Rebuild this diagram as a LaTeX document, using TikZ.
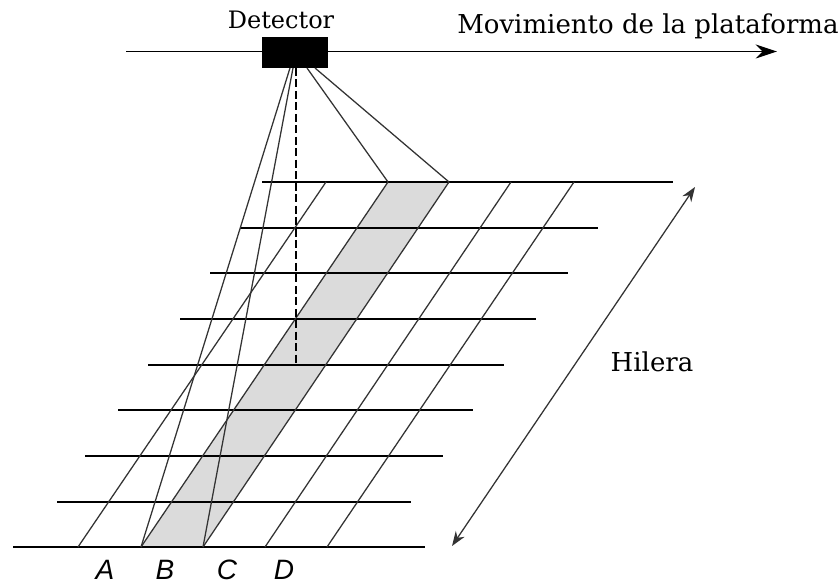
\documentclass[tikz,border=0pt]{standalone}
\usepackage{fontspec}
\setmainfont{DejaVu Serif}
\setsansfont{Liberation Sans}
\usetikzlibrary{arrows.meta}

\begin{document}
\begin{tikzpicture}[x=0.75pt, y=-0.75pt, font=\fontsize{19.5pt}{22pt}\selectfont,
    line/.style={line width=1.1pt},
    ray/.style={line width=0.95pt, black!80},
    letter/.style={inner sep=0pt, font=\sffamily\itshape\fontsize{21pt}{24pt}\selectfont}]
\useasboundingbox (0,0) rectangle (840,584);

% ends of the slanted lines, bottom row and top row
\coordinate (a0) at (78,547);  \coordinate (a1) at (326,182);
\coordinate (b0) at (141,547); \coordinate (b1) at (388,182);
\coordinate (c0) at (203,547); \coordinate (c1) at (449,182);
\coordinate (d0) at (265,547); \coordinate (d1) at (511,182);
\coordinate (e0) at (327,547); \coordinate (e1) at (574,182);

% shaded strip goes under everything else
\fill[black!14] (b0) -- (c0) -- (c1) -- (b1) -- cycle;

% horizontal lines, y / left end / right end
\foreach \y/\xa/\xb [count=\i] in {182/262/673, 228/240/598, 273/210/568, 319/180/536, 365/148/504, 410/118/473, 456/85/443, 502/57/411, 547/13/425} {
    \coordinate (l\i) at (\xa,\y);
    \coordinate (r\i) at (\xb,\y);
    \draw[line] (l\i) -- (r\i);
}

% slanted lines
\foreach \n in {a,b,c,d,e} {
    \draw[ray] (\n0) -- (\n1);
}

% platform and detector
\coordinate (p0) at (126,51.5);
\coordinate (p1) at (777,51.5);
\draw[-{Stealth[length=16pt,width=10.5pt]}, line] (p0) -- (p1);
\node[fill=black, minimum width=49.5pt, minimum height=23.5pt, inner sep=0pt] (det) at (295,52.5) {};
\node[font=\fontsize{18pt}{21pt}\selectfont] (detlabel) at (281,20) {Detector};
\node[anchor=west, inner sep=0pt] (mov) at (457,26) {Movimiento de la plataforma};

% rays from the detector
\coordinate (fb) at (290,68);
\coordinate (fc) at (293,68);
\coordinate (fl) at (307,68);
\coordinate (fr) at (315,68);
\coordinate (d) at (296,68);
\coordinate (dend) at (296,365);
\draw[ray] (fb) -- (b0);
\draw[ray] (fc) -- (c0);
\draw[ray] (fl) -- (b1);
\draw[ray] (fr) -- (c1);
\draw[line, dash pattern=on 6pt off 2.6pt] (d) -- (dend);

% row arrow
\coordinate (h0) at (452,546);
\coordinate (h1) at (695,187);
\draw[{Stealth[length=11pt,width=8pt]}-{Stealth[length=11pt,width=8pt]}, ray] (h0) -- (h1);
\node (hilera) at (652,362) {Hilera};

% labels under the bottom line
\node[letter] (A) at (105,570) {A};
\node[letter] (B) at (165,570) {B};
\node[letter] (C) at (227,570) {C};
\node[letter] (D) at (284,570) {D};

\end{tikzpicture}
\end{document}
